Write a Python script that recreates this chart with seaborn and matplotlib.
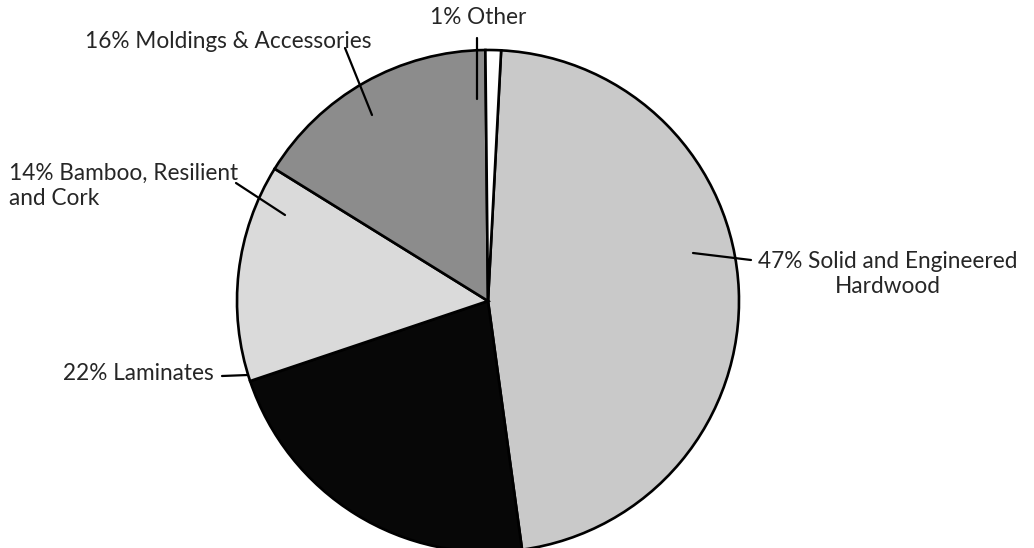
import matplotlib
matplotlib.use("Agg")
import matplotlib.pyplot as plt
import seaborn as sns

sns.set_theme(style="white")
plt.rcParams["font.family"] = ["Lato", "DejaVu Sans"]

# Flooring sales share by category (percent)
categories = ["Solid and Engineered\nHardwood", "Laminates", "Bamboo, Resilient\nand Cork",
              "Moldings & Accessories", "Other"]
shares = [47, 22, 14, 16, 1]
fills = ["#c9c9c9", "#070707", "#dadada", "#8c8c8c", "#ffffff"]

W, H = 1034, 548
fig = plt.figure(figsize=(W / 100, H / 100), dpi=100)
ax = fig.add_axes([0, 0, 1, 1])

cx, cy, r = 488, H - 301, 251
ax.pie(shares, colors=fills, startangle=87, counterclock=False,
       center=(cx, cy), radius=r, frame=False,
       wedgeprops=dict(edgecolor="black", linewidth=1.9))
ax.set_xlim(0, W)
ax.set_ylim(0, H)
ax.set_aspect("equal", adjustable="box")
ax.axis("off")


def py(y):
    return H - y


labels = [f"{v}% {c}" for v, c in zip(shares, categories)]
fs = 16.3
lw = 1.6

# Hardwood
ax.plot([693, 751], [py(253), py(260)], color="black", lw=lw)
ax.text(888, py(274), labels[0], ha="center", va="center", fontsize=fs,
        linespacing=1.2)
# Laminates
ax.plot([222, 248], [py(376), py(375)], color="black", lw=lw)
ax.text(214, py(374), labels[1], ha="right", va="center", fontsize=fs)
# Bamboo
ax.plot([236, 285], [py(183), py(215)], color="black", lw=lw)
ax.text(9, py(186), labels[2], ha="left", va="center", fontsize=fs,
        linespacing=1.2, multialignment="left")
# Moldings
ax.plot([345, 372], [py(48), py(115)], color="black", lw=lw)
ax.text(228, py(42), labels[3], ha="center", va="center", fontsize=fs)
# Other
ax.plot([477, 477], [py(38), py(99)], color="black", lw=lw)
ax.text(478, py(18), labels[4], ha="center", va="center", fontsize=fs)

fig.savefig("out.png", dpi=100, facecolor="white")
